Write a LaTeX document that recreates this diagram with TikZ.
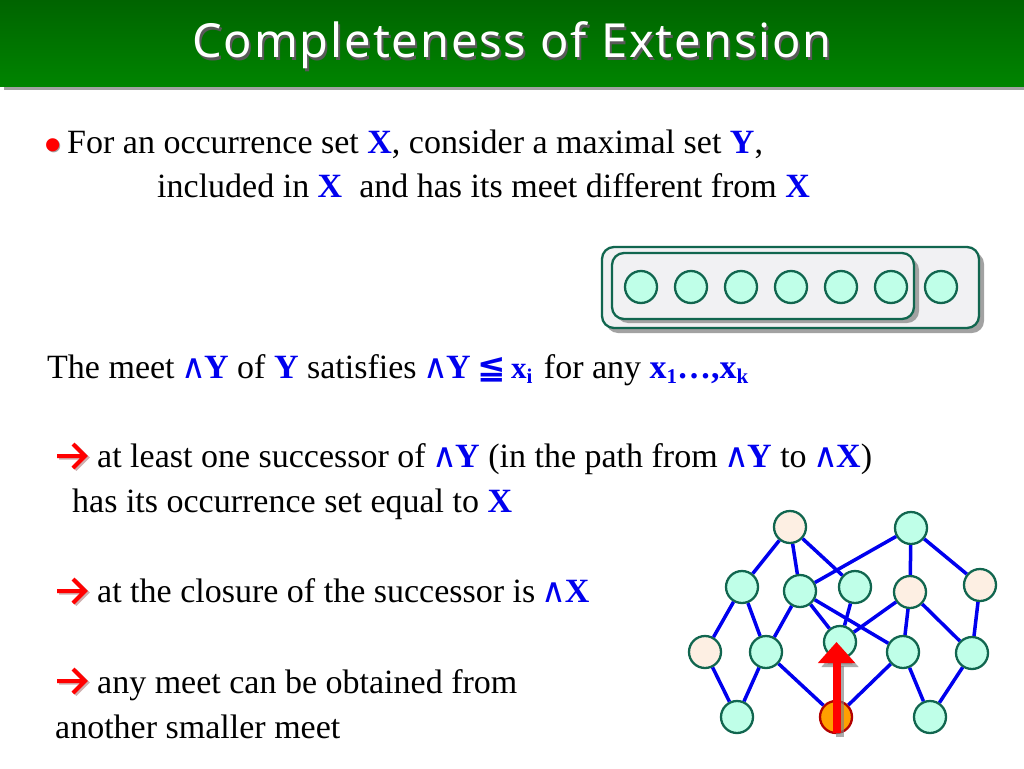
\documentclass[tikz,border=0pt]{standalone}
\usepackage{fontspec}
\setmainfont{Liberation Serif}
\newfontfamily\dejavu{DejaVu Sans}
\newfontfamily\titlefont[LetterSpace=4]{Noto Sans}
\usetikzlibrary{arrows.meta}
\definecolor{hdrtop}{HTML}{006400}
\definecolor{hdrbot}{HTML}{008400}
\definecolor{ringgreen}{HTML}{11664F}
\definecolor{mint}{HTML}{BFFFE8}
\definecolor{peach}{HTML}{FDEFE3}
\definecolor{boxfill}{HTML}{F1F1F3}
\definecolor{shadowgray}{HTML}{A2A2A2}
\definecolor{keyblue}{HTML}{0000EE}
\newcommand{\kw}[1]{\textcolor{keyblue}{\bfseries #1}}
\newcommand{\mt}{\makebox[21pt][c]{\textcolor{keyblue}{\dejavu\fontsize{34}{34}\selectfont ∧}}}
\newcommand{\sbs}[1]{\raisebox{-5pt}{\fontsize{21}{21}\selectfont #1}}
\tikzset{
  x=1pt,y=-1pt,
  txt/.style={anchor=base west,inner sep=0pt,font=\fontsize{34}{34}\selectfont},
  ttl/.style={anchor=base,inner sep=0pt,font=\titlefont\fontsize{47}{47}\selectfont},
  pt/.style={circle,draw=ringgreen,line width=2.3pt,fill=mint,minimum size=32pt,inner sep=0pt},
  ptp/.style={pt,fill=peach},
  ptsel/.style={pt,fill=orange!75!yellow,draw=red!70!black},
  edge/.style={draw=keyblue,line width=3.5pt},
  setbox/.style={draw=ringgreen,line width=2.3pt,fill=boxfill,rounded corners=12pt},
  setshadow/.style={fill=shadowgray,rounded corners=12pt},
  impl/.style={draw=red,line width=4pt,line join=miter},
  implshadow/.style={draw=red!25!gray!50,line width=4pt},
  bigarrow/.style={line width=8pt,-{Triangle[length=21pt,width=36pt]}},
}
\begin{document}
\begin{tikzpicture}
\useasboundingbox (0,0) rectangle (1024,768);
\fill[white] (0,0) rectangle (1024,768);
% header
\fill[shadowgray] (4,86) rectangle (1024,90);
\shade[top color=hdrtop,bottom color=hdrbot] (0,0) rectangle (1024,86);
\node[ttl,text=black!65] (titleshadow) at (514,60) {Completeness of Extension};
\node[ttl,text=white] (title) at (512,58) {Completeness of Extension};
% body text
\node[txt,text=shadowgray,font=\fontsize{55}{55}\selectfont] (bulletshadow) at (44,164) {•};
\node[txt,text=red,font=\fontsize{55}{55}\selectfont] (bullet) at (43,163) {•};
\node[txt] (l1) at (67,153) {For an occurrence set \kw{X}, consider a maximal set \kw{Y},};
\node[txt] (l2) at (157,197.5) {included in \kw{X}\ \ and has its meet different from \kw{X}};
\node[txt] (l3) at (47,378) {The meet \mt\kw{Y} of \kw{Y} satisfies \mt\kw{Y}\hspace{-2pt} \textcolor{keyblue}{{\dejavu\bfseries\fontsize{34}{34}\selectfont ≦}}\hspace{-3pt} \kw{\fontsize{31}{31}\selectfont x\sbs{i}}\hspace{3pt} for any \kw{\fontsize{34}{34}\selectfont x\sbs{1}…,x\sbs{k}}};
\node[txt] (l4) at (97,467.5) {at least one successor of \mt\kw{Y} (in the path from \mt\kw{Y} to \mt\kw{X})};
\node[txt] (l5) at (72,512.5) {has its occurrence set equal to \kw{X}};
\node[txt] (l6) at (97,602.5) {at the closure of the successor is \mt\kw{X}};
\node[txt] (l7) at (97,693) {any meet can be obtained from};
\node[txt] (l8) at (55,738) {another smaller meet};
% implication marks
\foreach \yy in {456,591,681}{
  \draw[implshadow] (59,\yy+1.5) -- (86,\yy+1.5) (75,\yy-10.5) -- (87,\yy+1.5) -- (75,\yy+13.5);
  \draw[impl] (57,\yy) -- (85,\yy) (73,\yy-12) -- (85,\yy) -- (73,\yy+12);
}
% set boxes
\fill[setshadow] (606,252) rectangle (984,333);
\draw[setbox] (602,247) rectangle (979,328);
\fill[setshadow] (616,258) rectangle (919,323);
\draw[setbox] (612,253) rectangle (914,319);
\foreach \xx/\nm in {641/s1,691/s2,741/s3,791/s4,841/s5,891/s6,941/s7}{
  \node[pt] (\nm) at (\xx,287) {};
}
% lattice nodes
\node[ptp] (a) at (790,527) {};
\node[pt]  (b) at (911,528) {};
\node[pt]  (c) at (742,587) {};
\node[pt]  (d) at (800,591) {};
\node[pt]  (e) at (855,587) {};
\node[ptp] (f) at (910,592) {};
\node[ptp] (g) at (980,585) {};
\node[ptp] (h) at (705,652) {};
\node[pt]  (i) at (766,652) {};
\node[pt]  (j) at (840,642) {};
\node[pt]  (k) at (903,652) {};
\node[pt]  (l) at (972,653) {};
\node[pt]  (m) at (737,717) {};
\node[ptsel] (n) at (836,717) {};
\node[pt]  (o) at (930,717) {};
\foreach \p/\q in {a/c,a/d,a/e,b/d,b/f,b/g,c/h,c/i,d/i,d/j,d/k,e/j,f/j,f/k,f/l,g/l,h/m,i/m,i/n,k/n,k/o,l/o}{
  \draw[edge] (\p) -- (\q);
}
% big arrow
\coordinate (tail) at (836.5,733);
\coordinate (tip) at (836.5,642);
\draw[bigarrow,draw=gray,fill=gray,opacity=.65] ([shift={(3.5,4)}]tail) -- ([shift={(3.5,4)}]tip);
\draw[bigarrow,draw=red,fill=red] (tail) -- (tip);
\end{tikzpicture}
\end{document}
